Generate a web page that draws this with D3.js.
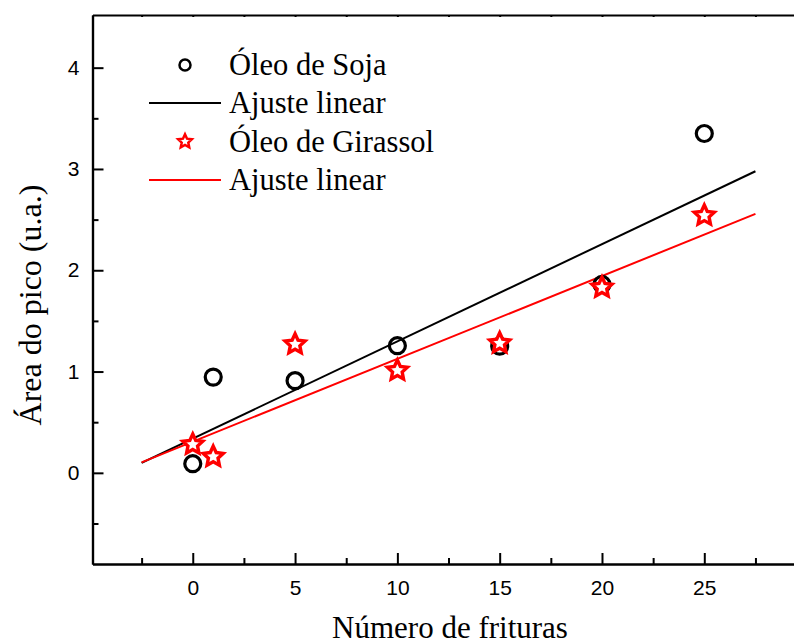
<!DOCTYPE html>
<html>
<head>
<meta charset="utf-8">
<script src="https://cdn.jsdelivr.net/npm/d3@7"></script>
<style>
  html, body { margin: 0; padding: 0; background: #fff; }
  svg { display: block; }
</style>
</head>
<body>
<svg id="chart" width="794" height="644"></svg>
<script>
// Frying cycles (x) and peak areas (arbitrary units) for each oil
const frituras = [0, 1, 5, 10, 15, 20, 25];
const soja     = [0.09, 0.945, 0.91, 1.255, 1.25, 1.86, 3.35];
const girassol = [0.28, 0.16, 1.27, 1.01, 1.28, 1.83, 2.54];

// Range covered by the fitted lines
const fitRange = [-2.5, 27.5];

// Axis ticks
const xTicks = [0, 5, 10, 15, 20, 25];
const xMinor = [-2.5, 2.5, 7.5, 12.5, 17.5, 22.5, 27.5];
const yTicks = [0, 1, 2, 3, 4];
const yMinor = [-0.5, 0.5, 1.5, 2.5, 3.5];

const legendLabels = ["Óleo de Soja", "Ajuste linear", "Óleo de Girassol", "Ajuste linear"];

const svg = d3.select("#chart");

const x = d3.scaleLinear().domain([-4.9, 30]).range([92.5, 806.6]);
const y = d3.scaleLinear().domain([-0.9, 4.52]).range([564, 15]);

// Ordinary least-squares fit
function linFit(xs, ys) {
  const mx = d3.mean(xs), my = d3.mean(ys);
  let sxy = 0, sxx = 0;
  xs.forEach((v, i) => { sxy += (v - mx) * (ys[i] - my); sxx += (v - mx) * (v - mx); });
  const b = sxy / sxx;
  return { a: my - b * mx, b };
}

// Five-pointed star path centred on the origin
function starPath(R, ratio) {
  const pts = d3.range(10).map(i => [i * Math.PI / 5, i % 2 ? R * ratio : R]);
  return d3.lineRadial().curve(d3.curveLinearClosed)(pts);
}

const tickFont = "'Liberation Sans', Arial, sans-serif";
const serif = "'Liberation Serif', 'Times New Roman', serif";

// Fitted lines
const series = [
  { ys: soja, color: "#000" },
  { ys: girassol, color: "#ff0000" }
];
const lineGen = d3.line().x(d => x(d[0])).y(d => y(d[1]));
series.forEach(s => {
  const f = linFit(frituras, s.ys);
  svg.append("path")
    .attr("d", lineGen(fitRange.map(v => [v, f.a + f.b * v])))
    .attr("fill", "none").attr("stroke", s.color).attr("stroke-width", 2);
});

// Soybean oil: open circles
svg.append("g").selectAll("circle").data(frituras).join("circle")
  .attr("cx", d => x(d)).attr("cy", (d, i) => y(soja[i]))
  .attr("r", 8).attr("fill", "none").attr("stroke", "#000").attr("stroke-width", 3.2);

// Sunflower oil: open stars
const bigStar = starPath(10.5, 0.48);
svg.append("g").selectAll("path").data(frituras).join("path")
  .attr("d", bigStar)
  .attr("transform", (d, i) => `translate(${x(d)},${y(girassol[i])})`)
  .attr("fill", "#fff").attr("stroke", "#ff0000").attr("stroke-width", 3.4)
  .attr("stroke-linejoin", "miter");

// Axes
const axisG = svg.append("g");
const xLeft = x.range()[0], yBottom = y.range()[0], yTop = y.range()[1];

// bottom axis
const bottomAxis = axisG.append("g").attr("transform", `translate(0,${yBottom})`)
  .call(d3.axisBottom(x).tickValues(xTicks).tickSizeInner(-11).tickSizeOuter(0).tickPadding(16).tickFormat(d3.format("d")));
bottomAxis.append("g").call(d3.axisBottom(x).tickValues(xMinor).tickSizeInner(-6).tickSizeOuter(0).tickFormat(""));

// left axis
const leftAxis = axisG.append("g").attr("transform", `translate(${xLeft},0)`)
  .call(d3.axisLeft(y).tickValues(yTicks).tickSizeInner(-11).tickSizeOuter(0).tickPadding(13).tickFormat(d3.format("d")));
leftAxis.append("g").call(d3.axisLeft(y).tickValues(yMinor).tickSizeInner(-6).tickSizeOuter(0).tickFormat(""));

// top border with tiny ticks
axisG.append("g").attr("transform", `translate(0,${yTop})`)
  .call(d3.axisTop(x).tickValues(xTicks.concat(xMinor)).tickSizeInner(-2).tickSizeOuter(0).tickFormat(""));

axisG.selectAll(".domain").attr("stroke", "#000").attr("stroke-width", 2.2);
axisG.selectAll(".tick line").attr("stroke", "#000").attr("stroke-width", 2);
axisG.selectAll(".tick text").attr("font-family", tickFont).attr("font-size", 21).attr("fill", "#000");

// Axis titles
svg.append("text")
  .attr("x", 450).attr("y", 638).attr("text-anchor", "middle")
  .attr("font-family", serif).attr("font-size", 31).attr("fill", "#000")
  .text("Número de frituras");

svg.append("text")
  .attr("transform", "translate(41,305) rotate(-90)").attr("text-anchor", "middle")
  .attr("font-family", serif).attr("font-size", 32).attr("fill", "#000")
  .text("Área do pico (u.a.)");

// Legend
const lg = svg.append("g");
const rowY = [65, 103, 141.5, 180];
const mx = 185;
lg.append("circle").attr("cx", mx).attr("cy", rowY[0]).attr("r", 5.5)
  .attr("fill", "none").attr("stroke", "#000").attr("stroke-width", 2.5);
lg.append("line").attr("x1", 149).attr("x2", 221).attr("y1", rowY[1]).attr("y2", rowY[1])
  .attr("stroke", "#000").attr("stroke-width", 2);
lg.append("path").attr("d", starPath(7.2, 0.48))
  .attr("transform", `translate(${mx},${rowY[2]})`)
  .attr("fill", "#fff").attr("stroke", "#ff0000").attr("stroke-width", 2.5);
lg.append("line").attr("x1", 149).attr("x2", 221).attr("y1", rowY[3]).attr("y2", rowY[3])
  .attr("stroke", "#ff0000").attr("stroke-width", 2);
lg.selectAll("text").data(legendLabels).join("text")
  .attr("x", 229).attr("y", (d, i) => rowY[i] + 10)
  .attr("font-family", serif).attr("font-size", 30.5).attr("fill", "#000")
  .text(d => d);
</script>
</body>
</html>
